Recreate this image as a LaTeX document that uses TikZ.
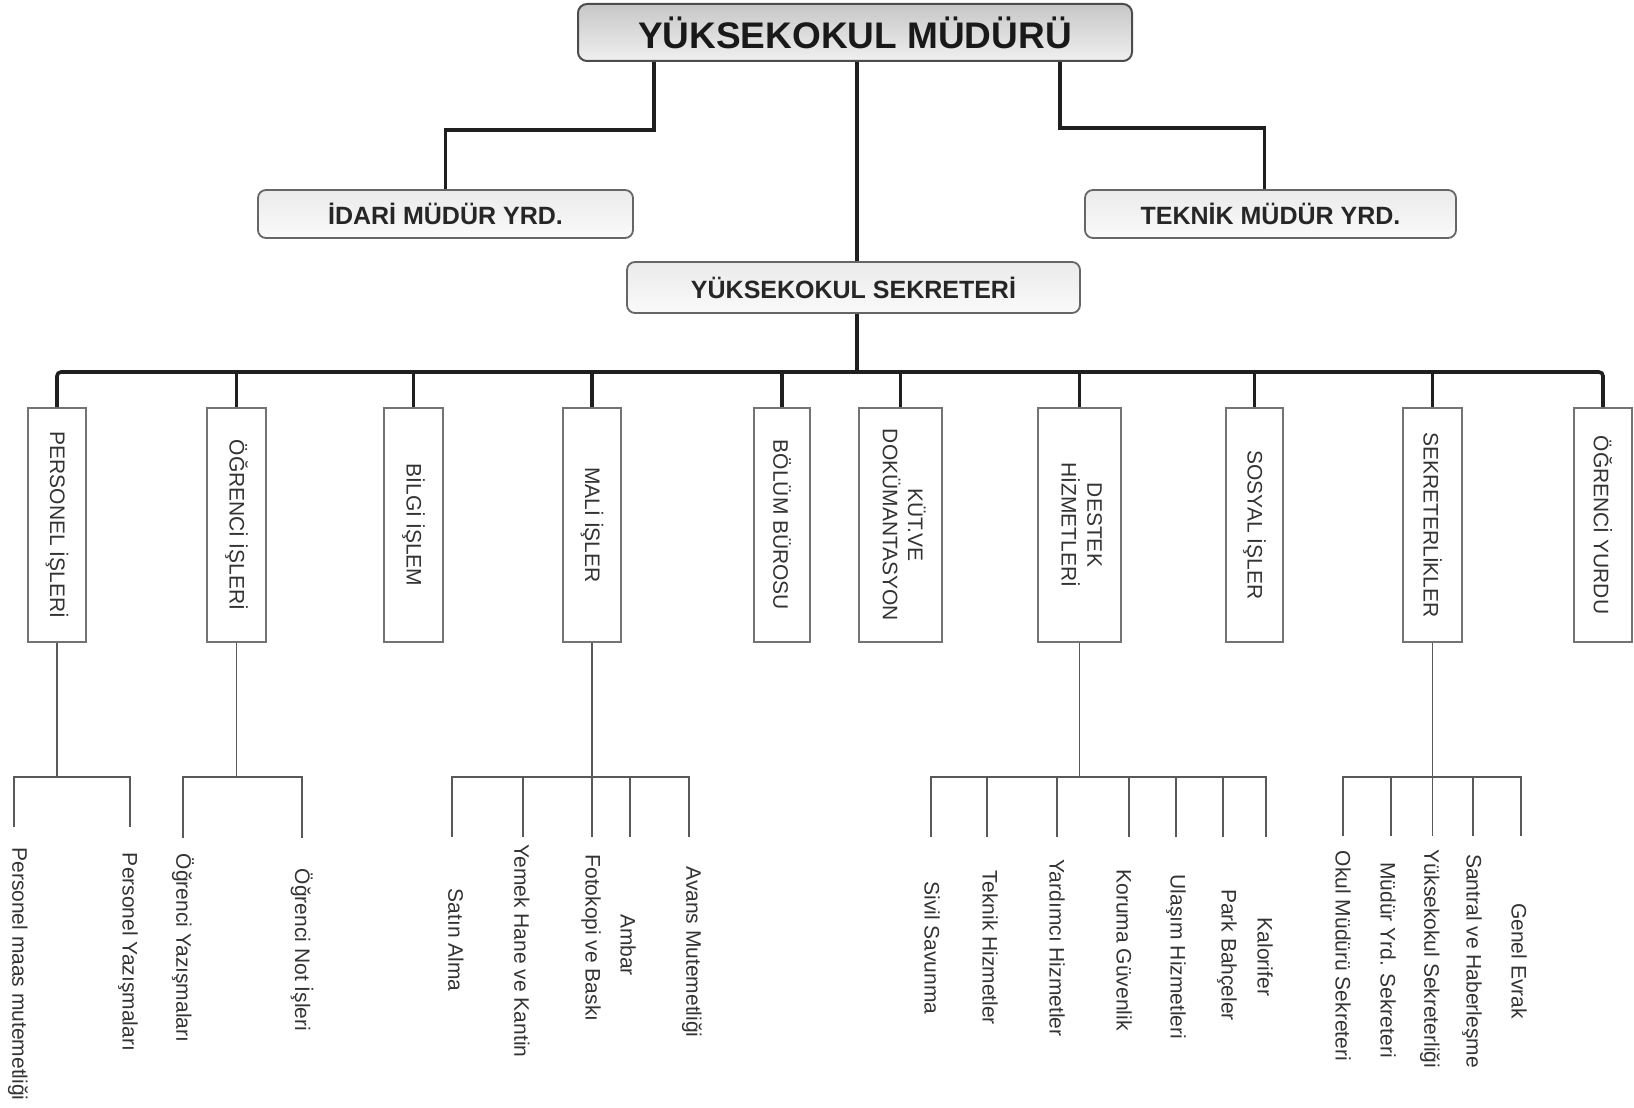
\documentclass[tikz,border=0pt]{standalone}
\usepackage{fontspec}
\setmainfont{Liberation Sans}
\begin{document}
\begin{tikzpicture}[x=1pt,y=-1pt,
  conn/.style={draw=black!88, line width=3.6pt},
  sub/.style={draw=black!65, line width=1.6pt},
  topbox/.style={draw=black!70, line width=2pt, rounded corners=9pt, top color=black!22, bottom color=black!6, inner sep=0pt, font=\fontsize{37}{40}\selectfont\bfseries, text=black!90},
  midbox/.style={draw=black!60, line width=1.8pt, rounded corners=8pt, top color=black!8, bottom color=black!2, inner sep=0pt, font=\fontsize{25}{28}\selectfont\bfseries, text=black!85},
  unitbox/.style={draw=black!55, line width=1.6pt, fill=white, inner sep=0pt, minimum height=234pt, font=\fontsize{21}{25}\selectfont, text=black!80},
  lab/.style={rotate=-90, inner sep=0pt, font=\fontsize{21}{25}\selectfont, text=black!80},
]
\useasboundingbox[fill=white] (0,0) rectangle (1634,1108);

% top level
\node[topbox, minimum width=554pt, minimum height=57pt] (mudur) at (855,32.5) {YÜKSEKOKUL MÜDÜRÜ};
\node[midbox, minimum width=375pt, minimum height=48pt] (idari) at (445.5,214) {İDARİ MÜDÜR YRD.};
\node[midbox, minimum width=371pt, minimum height=48pt] (teknik) at (1270.5,214) {TEKNİK MÜDÜR YRD.};
\node[midbox, minimum width=453pt, minimum height=51pt] (sekreter) at (853.5,287.5) {YÜKSEKOKUL SEKRETERİ};

% units
\node[unitbox, minimum width=58pt] (u1) at (57,525) {\rotatebox{-90}{PERSONEL İŞLERİ}};
\node[unitbox, minimum width=59pt] (u2) at (236.5,525) {\rotatebox{-90}{ÖĞRENCİ İŞLERİ}};
\node[unitbox, minimum width=59pt] (u3) at (413.5,525) {\rotatebox{-90}{BİLGİ İŞLEM}};
\node[unitbox, minimum width=58pt] (u4) at (592,525) {\rotatebox{-90}{MALİ İŞLER}};
\node[unitbox, minimum width=56pt] (u5) at (782,525) {\rotatebox{-90}{BÖLÜM BÜROSU}};
\node[unitbox, minimum width=83pt] (u6) at (900.5,525) {\rotatebox{-90}{\begin{tabular}{@{}c@{}}KÜT.VE\\DOKÜMANTASYON\end{tabular}}};
\node[unitbox, minimum width=83pt] (u7) at (1079.5,525) {\rotatebox{-90}{\begin{tabular}{@{}c@{}}DESTEK\\HİZMETLERİ\end{tabular}}};
\node[unitbox, minimum width=57pt] (u8) at (1254.5,525) {\rotatebox{-90}{SOSYAL İŞLER}};
\node[unitbox, minimum width=59pt] (u9) at (1432.5,525) {\rotatebox{-90}{SEKRETERLİKLER}};
\node[unitbox, minimum width=58pt] (u10) at (1603,525) {\rotatebox{-90}{ÖĞRENCİ YURDU}};

% upper connectors
\coordinate (tl) at (654,130);
\coordinate (tr) at (1060,128);
\coordinate (cx) at (857,0);
\coordinate (bus) at (0,372);
\draw[conn] (mudur.south -| tl) -- (tl) -| (idari.north);
\draw[conn] (mudur.south -| tr) -- (tr) -| ([xshift=-6pt]teknik.north);
\draw[conn] (mudur.south -| cx) -- (sekreter.north -| cx);
\draw[conn] (sekreter.south -| cx) -- (bus -| cx);
\draw[conn, rounded corners=4pt] (u1.north) -- (u1.north |- bus) -- (u10.north |- bus) -- (u10.north);
\foreach \i in {2,...,9} \draw[conn] (u\i.north |- bus) -- (u\i.north);

% lower connectors
\coordinate (bar) at (0,777);
% Personel
\coordinate (pa) at (14,827); \coordinate (pb) at (130,827);
\draw[sub] (u1.south) -- (u1.south |- bar);
\draw[sub] (pa) -- (pa |- bar) -- (pb |- bar) -- (pb);
% Ogrenci
\coordinate (oa) at (183,838); \coordinate (ob) at (302,838);
\draw[sub] (u2.south) -- (u2.south |- bar);
\draw[sub] (oa) -- (oa |- bar) -- (ob |- bar) -- (ob);
% Mali
\coordinate (ma) at (452,837); \coordinate (mb) at (523,837); \coordinate (mc) at (592,837);
\coordinate (md) at (630,837); \coordinate (me) at (689,837);
\draw[sub] (u4.south) -- (mc);
\draw[sub] (ma) -- (ma |- bar) -- (me |- bar) -- (me);
\foreach \c in {mb,md} \draw[sub] (\c |- bar) -- (\c);
% Destek
\coordinate (da) at (931,837); \coordinate (db) at (987,837); \coordinate (dc) at (1057,837);
\coordinate (dd) at (1129,837); \coordinate (de) at (1176,837); \coordinate (df) at (1223,837);
\coordinate (dg) at (1266,837);
\draw[sub] (u7.south) -- (u7.south |- bar);
\draw[sub] (da) -- (da |- bar) -- (dg |- bar) -- (dg);
\foreach \c in {db,dc,dd,de,df} \draw[sub] (\c |- bar) -- (\c);
% Sekreterlikler
\coordinate (sa) at (1343,836); \coordinate (sb) at (1391,836); \coordinate (sc) at (1432.5,836);
\coordinate (sd) at (1473,836); \coordinate (se) at (1521,836);
\draw[sub] (u9.south) -- (sc);
\draw[sub] (sa) -- (sa |- bar) -- (se |- bar) -- (se);
\foreach \c in {sb,sd} \draw[sub] (\c |- bar) -- (\c);

% labels
\node[lab] (l1) at (18,974) {Personel maas mutemetliği};
\node[lab] (l2) at (128,952) {Personel Yazışmaları};
\node[lab] (l3) at (183,948) {Öğrenci Yazışmaları};
\node[lab] (l4) at (302,950) {Öğrenci Not İşleri};
\node[lab] (l5) at (456,940) {Satın Alma};
\node[lab] (l6) at (522,951) {Yemek Hane ve Kantin};
\node[lab] (l7) at (591,938) {Fotokopi ve Baskı};
\node[lab] (l8) at (628,945) {Ambar};
\node[lab] (l9) at (692,952) {Avans Mutemetliği};
\node[lab] (l10) at (932,948) {Sivil Savunma};
\node[lab] (l11) at (990,948) {Teknik Hizmetler};
\node[lab] (l12) at (1057,948) {Yardımcı Hizmetler};
\node[lab] (l13) at (1124,950) {Koruma Güvenlik};
\node[lab] (l14) at (1176,957) {Ulaşım Hizmetleri};
\node[lab] (l15) at (1227,955) {Park Bahçeler};
\node[lab] (l16) at (1265,957) {Kalorifer};
\node[lab] (l17) at (1343,956) {Okul Müdürü Sekreteri};
\node[lab] (l18) at (1388,960) {Müdür Yrd. Sekreteri};
\node[lab] (l19) at (1430,959) {Yüksekokul Sekreterliği};
\node[lab] (l20) at (1472,961) {Santral ve Haberleşme};
\node[lab] (l21) at (1519,961) {Genel Evrak};
\end{tikzpicture}
\end{document}
